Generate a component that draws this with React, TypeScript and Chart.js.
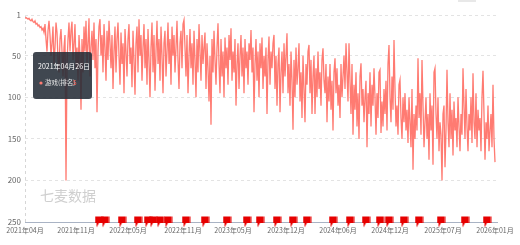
import React, { useEffect, useRef } from "react";
import { Chart, registerables } from "chart.js";

Chart.register(...registerables);

// Rank values, one sample per step along the time axis
const ranks: number[] = [
  5, 4, 5, 6, 5, 7, 8, 6, 9, 10, 8, 12, 11, 14, 13, 16, 15, 19, 17, 22,
  12, 30, 45, 20, 8, 25, 50, 35, 15, 60, 40, 10, 22, 55, 70, 30, 18, 45, 75, 40,
  25, 200, 60, 30, 10, 45, 20, 9, 55, 35, 12, 65, 40, 80, 25, 50, 115, 30, 70, 15,
  45, 8, 60, 35, 5, 75, 40, 20, 55, 10, 65, 30, 118, 45, 15, 6, 50, 25, 70, 12,
  40, 80, 20, 55, 8, 35, 65, 25, 90, 45, 15, 70, 30, 10, 50, 85, 22, 60, 35, 95,
  18, 45, 75, 30, 12, 60, 40, 88, 20, 55, 97, 35, 15, 70, 6, 50, 25, 80, 40, 12,
  65, 30, 85, 18, 55, 100, 40, 10, 70, 25, 92, 45, 8, 60, 30, 80, 15, 50, 95, 35,
  20, 75, 45, 10, 60, 30, 85, 15, 50, 25, 70, 40, 8, 55, 90, 35, 20, 65, 12, 7,
  40, 75, 25, 95, 50, 18, 65, 35, 85, 20, 55, 100, 30, 70, 12, 45, 80, 25, 60, 40,
  22, 90, 35, 65, 105, 50, 133, 30, 70, 20, 55, 85, 40, 11, 60, 95, 30, 75, 45, 100,
  28, 65, 40, 85, 25, 55, 17, 80, 45, 70, 30, 110, 60, 35, 90, 50, 25, 75, 40, 95,
  30, 65, 45, 85, 35, 55, 19, 70, 40, 118, 60, 30, 80, 45, 100, 35, 65, 28, 90, 50,
  75, 40, 120, 55, 27, 85, 45, 65, 35, 25, 90, 50, 110, 60, 40, 118, 70, 45, 95, 35,
  75, 50, 23, 95, 60, 110, 45, 80, 139, 55, 100, 40, 85, 65, 35, 105, 70, 125, 50, 90,
  130, 60, 85, 45, 37, 95, 55, 120, 75, 50, 120, 65, 100, 45, 90, 70, 110, 55, 41, 80,
  95, 60, 130, 75, 105, 60, 115, 80, 140, 70, 53, 95, 65, 110, 85, 125, 60, 100, 75, 50,
  90, 35, 70, 105, 35, 80, 120, 60, 145, 85, 115, 70, 135, 95, 150, 75, 59, 110, 90, 130,
  100, 80, 160, 95, 120, 70, 135, 85, 110, 65, 100, 145, 95, 125, 70, 67, 143, 105, 135, 90,
  120, 80, 140, 60, 37, 100, 130, 75, 115, 31, 90, 135, 110, 145, 85, 79, 125, 150, 100, 130,
  95, 140, 115, 155, 100, 130, 160, 90, 187, 120, 150, 110, 140, 53, 125, 95, 145, 55, 110, 160,
  130, 100, 150, 120, 175, 95, 140, 110, 181, 70, 65, 120, 150, 100, 165, 130, 145, 200, 120, 110,
  184, 140, 67, 130, 160, 95, 150, 115, 170, 105, 140, 125, 160, 100, 135, 165, 120, 145, 65, 110,
  150, 90, 135, 165, 120, 140, 100, 155, 71, 130, 150, 95, 160, 115, 140, 125, 165, 100, 68, 120,
  175, 130, 150, 110, 165, 140, 120, 160, 85, 150, 178,
];

// Event markers (positions on the same step axis)
const eventPositions: number[] = [
  74, 80, 97, 113, 123, 128, 135, 143, 161, 180, 202, 222, 235, 252, 268, 282,
  308, 325, 341, 355, 364, 379, 394, 416, 440, 462,
];

const xTickPositions: number[] = [0, 51, 103, 158, 208, 261, 313, 365, 418, 470];
const xTickLabels: string[] = [
  "2021年04月", "2021年11月", "2022年05月", "2022年11月", "2023年05月",
  "2023年12月", "2024年06月", "2024年12月", "2025年07月", "2026年01月",
];
const yTickValues: number[] = [1, 50, 100, 150, 200, 250];

const seriesName = "游戏(排名)";
const tooltipDate = "2021年04月26日";
const watermark = "七麦数据";

const FONT = '"Noto Sans CJK SC", "Noto Sans", sans-serif';

function makeMarker(): HTMLCanvasElement {
  const c = document.createElement("canvas");
  c.width = 9;
  c.height = 12;
  const g = c.getContext("2d")!;
  g.fillStyle = "#e60000";
  g.beginPath();
  g.moveTo(0.5, 0.5);
  g.lineTo(8.5, 0.5);
  g.lineTo(8.5, 7);
  g.lineTo(4.5, 7);
  g.lineTo(2, 11.5);
  g.lineTo(2, 7);
  g.lineTo(0.5, 7);
  g.closePath();
  g.fill();
  return c;
}

export default function App() {
  const ref = useRef<HTMLCanvasElement | null>(null);

  useEffect(() => {
    if (!ref.current) return;
    const marker = makeMarker();

    const overlay = {
      id: "overlay",
      beforeDatasetsDraw(chart: any) {
        const ctx = chart.ctx;
        ctx.save();
        ctx.fillStyle = "#cfcfcf";
        ctx.font = `14px ${FONT}`;
        ctx.textBaseline = "middle";
        ctx.fillText(watermark, 40, 196);
        ctx.fillStyle = "#e8e8e8";
        ctx.fillRect(458, 0, 18, 2);
        ctx.restore();
      },
      afterDraw(chart: any) {
        const ctx = chart.ctx;
        ctx.save();
        const x = 33, y = 52, w = 59, h = 47, r = 3;
        ctx.fillStyle = "rgba(38,46,56,0.88)";
        ctx.beginPath();
        ctx.moveTo(x + r, y);
        ctx.lineTo(x + w - r, y);
        ctx.quadraticCurveTo(x + w, y, x + w, y + r);
        ctx.lineTo(x + w, y + h - r);
        ctx.quadraticCurveTo(x + w, y + h, x + w - r, y + h);
        ctx.lineTo(x + r, y + h);
        ctx.quadraticCurveTo(x, y + h, x, y + h - r);
        ctx.lineTo(x, y + r);
        ctx.quadraticCurveTo(x, y, x + r, y);
        ctx.closePath();
        ctx.fill();
        ctx.textBaseline = "middle";
        ctx.fillStyle = "#ffffff";
        ctx.font = `7px ${FONT}`;
        ctx.fillText(tooltipDate, 38, 66);
        ctx.fillStyle = "#ff7b72";
        ctx.beginPath();
        ctx.arc(41, 83, 1.6, 0, Math.PI * 2);
        ctx.fill();
        ctx.fillStyle = "#e8e8e8";
        ctx.font = `6.5px ${FONT}`;
        ctx.fillText(seriesName, 45, 83);
        ctx.fillStyle = "#ff5a4e";
        ctx.fillText(String(ranks[0]), 73, 83);
        ctx.restore();
      },
    };

    const chart = new Chart(ref.current, {
      type: "line",
      data: {
        datasets: [
          {
            label: seriesName,
            data: ranks.map((v, i) => ({ x: i, y: v })),
            borderColor: "#ff7b72",
            borderWidth: 1.3,
            pointRadius: 0,
            tension: 0,
            fill: false,
          },
          {
            label: "events",
            data: eventPositions.map((p) => ({ x: p, y: 250 })),
            showLine: false,
            pointStyle: marker as any,
            pointRadius: 5,
            clip: false as any,
          } as any,
        ],
      },
      options: {
        responsive: false,
        animation: false,
        layout: { padding: { top: 15, right: 23, left: 0, bottom: 0 } },
        plugins: { legend: { display: false }, tooltip: { enabled: false } },
        scales: {
          x: {
            type: "linear",
            min: 0,
            max: 472,
            afterBuildTicks: (s: any) => {
              s.ticks = xTickPositions.map((v) => ({ value: v }));
            },
            afterFit: (s: any) => {
              s.height = 23;
            },
            ticks: {
              autoSkip: false,
              maxRotation: 0,
              padding: 4,
              color: "#666",
              font: { size: 7, family: FONT },
              callback: (_v: any, i: number) => xTickLabels[i],
            },
            grid: {
              drawTicks: false,
              color: (c: any) => (c.index === 0 ? "#d6d6d6" : "rgba(0,0,0,0)"),
            },
            border: { color: "#a9b3c4", width: 1, dash: [3, 3] },
          },
          y: {
            type: "linear",
            reverse: true,
            min: 1,
            max: 250,
            afterBuildTicks: (s: any) => {
              s.ticks = yTickValues.map((v) => ({ value: v }));
            },
            afterFit: (s: any) => {
              s.width = 25;
            },
            ticks: {
              padding: 4,
              color: "#666",
              font: { size: 8, family: FONT },
            },
            grid: { drawTicks: false, color: "#e3e3e3" },
            border: { display: false, dash: [3, 3] },
          },
        },
      },
      plugins: [overlay],
    });

    return () => chart.destroy();
  }, []);

  return (
    <div style={{ position: "absolute", left: 0, top: 0, width: 520, height: 245, background: "#fff" }}>
      <canvas ref={ref} width={520} height={245} />
    </div>
  );
}
